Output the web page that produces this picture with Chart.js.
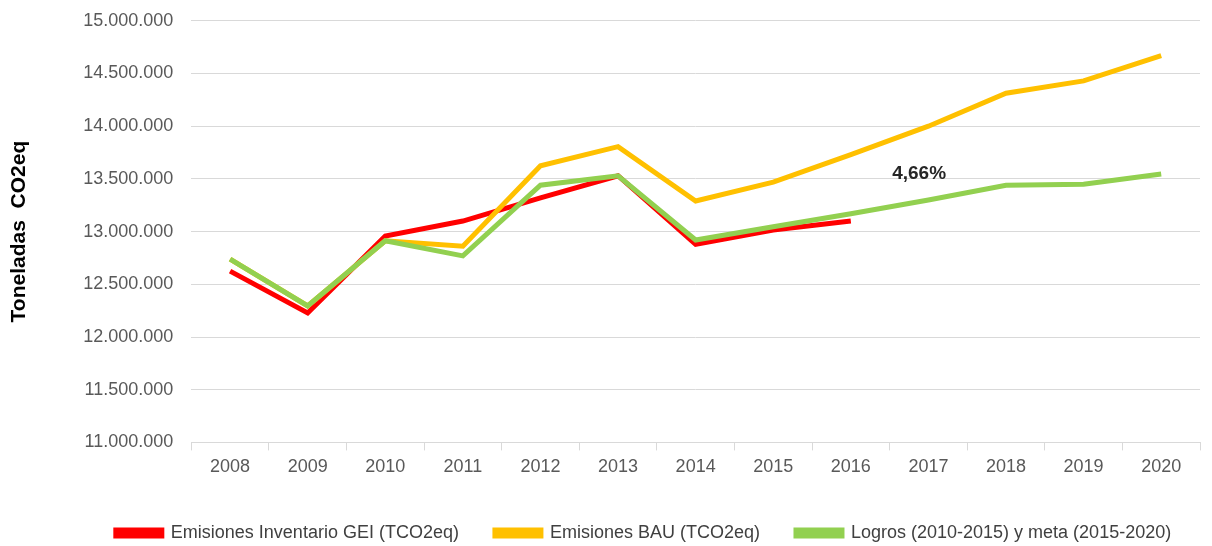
<!DOCTYPE html>
<html>
<head>
<meta charset="utf-8">
<script src="https://cdn.jsdelivr.net/npm/chart.js@4.4.1/dist/chart.umd.min.js"></script>
<style>
  html, body { margin: 0; padding: 0; background: #ffffff; }
  #wrap { width: 1212px; height: 546px; position: relative; }
</style>
</head>
<body>
<div id="wrap"><canvas id="c" width="1212" height="546"></canvas></div>
<script>
const years = ['2008','2009','2010','2011','2012','2013','2014','2015','2016','2017','2018','2019','2020'];
const inventarioGEI = [12625000, 12228000, 12957000, 13100000, 13320000, 13530000, 12880000, 13015000, 13100000, null, null, null, null];
const emisionesBAU = [12739000, 12295000, 12913000, 12862000, 13625000, 13806000, 13290000, 13470000, 13730000, 14000000, 14313000, 14430000, 14670000];
const logrosMeta = [12739000, 12295000, 12913000, 12770000, 13440000, 13530000, 12920000, 13046000, 13170000, 13300000, 13440000, 13450000, 13546000];
const seriesNames = ['Emisiones Inventario GEI (TCO2eq)', 'Emisiones BAU (TCO2eq)', 'Logros (2010-2015) y meta (2015-2020)'];
const yTicksMin = 11000000, yTicksMax = 15000000, yStep = 500000;
const yTitle = 'Toneladas  CO2eq';
const annotText = '4,66%';
const annotXIndex = 8.88;
const annotYValue = 13546000;

const FONT = "'Liberation Sans', Arial, sans-serif";
const LEGEND_HEIGHT = 58;
const LEGEND_SHIFT = 40;

function fmt(v) {
  return String(Math.round(v)).replace(/\B(?=(\d{3})+(?!\d))/g, '.');
}

const annotPlugin = {
  id: 'annot',
  afterDatasetsDraw(chart) {
    const ctx = chart.ctx;
    const x = chart.scales.x.getPixelForValue(annotXIndex);
    const y = chart.scales.y.getPixelForValue(annotYValue);
    ctx.save();
    ctx.font = "bold 19px " + FONT;
    ctx.fillStyle = '#262626';
    ctx.textAlign = 'center';
    ctx.textBaseline = 'middle';
    ctx.fillText(annotText, x, y);
    ctx.restore();
  }
};

const legendLayoutPlugin = {
  id: 'legendLayout',
  beforeLayout(chart) {
    const lg = chart.legend;
    if (lg && !lg._patchedFit) {
      const orig = lg.fit.bind(lg);
      lg.fit = function () { orig(); this.height = LEGEND_HEIGHT; };
      lg._patchedFit = true;
    }
  },
  afterLayout(chart) {
    const lg = chart.legend;
    if (lg) { lg.left += LEGEND_SHIFT; lg.right += LEGEND_SHIFT; }
  }
};

new Chart(document.getElementById('c'), {
  type: 'line',
  data: {
    labels: years,
    datasets: [
      { label: seriesNames[0], data: inventarioGEI, borderColor: '#ff0000', backgroundColor: '#ff0000', borderWidth: 5, pointRadius: 0, tension: 0, order: 2 },
      { label: seriesNames[1], data: emisionesBAU, borderColor: '#ffc000', backgroundColor: '#ffc000', borderWidth: 5, pointRadius: 0, tension: 0, order: 1 },
      { label: seriesNames[2], data: logrosMeta, borderColor: '#92d050', backgroundColor: '#92d050', borderWidth: 5, pointRadius: 0, tension: 0, order: 0 }
    ]
  },
  options: {
    responsive: false,
    animation: false,
    layout: { padding: { left: 7, right: 12, top: 0, bottom: 0 } },
    plugins: {
      legend: {
        position: 'bottom',
        labels: {
          boxWidth: 46,
          boxHeight: 6,
          padding: 36,
          color: '#404040',
          font: { family: FONT, size: 18 },
          sort: (a, b) => a.datasetIndex - b.datasetIndex
        }
      },
      tooltip: { enabled: false }
    },
    scales: {
      x: {
        offset: true,
        grid: { display: true, drawOnChartArea: false, drawTicks: true, tickLength: 8, color: '#d9d9d9', offset: true },
        border: { display: true, color: '#d9d9d9' },
        ticks: { color: '#595959', font: { family: FONT, size: 18 }, padding: 6, maxRotation: 0 },
        afterFit: (scale) => { scale.height += 4; }
      },
      y: {
        min: yTicksMin,
        max: yTicksMax,
        grid: { color: '#d9d9d9', drawTicks: true, tickLength: 8, tickColor: 'rgba(0,0,0,0)', lineWidth: 1 },
        border: { display: false },
        ticks: { stepSize: yStep, color: '#595959', font: { family: FONT, size: 18 }, padding: 10, callback: (v) => fmt(v) },
        title: { display: true, text: yTitle, color: '#000000', font: { family: FONT, size: 21, weight: 'bold' }, padding: { top: 0, bottom: 41 } }
      }
    }
  },
  plugins: [annotPlugin, legendLayoutPlugin]
});
</script>
</body>
</html>
